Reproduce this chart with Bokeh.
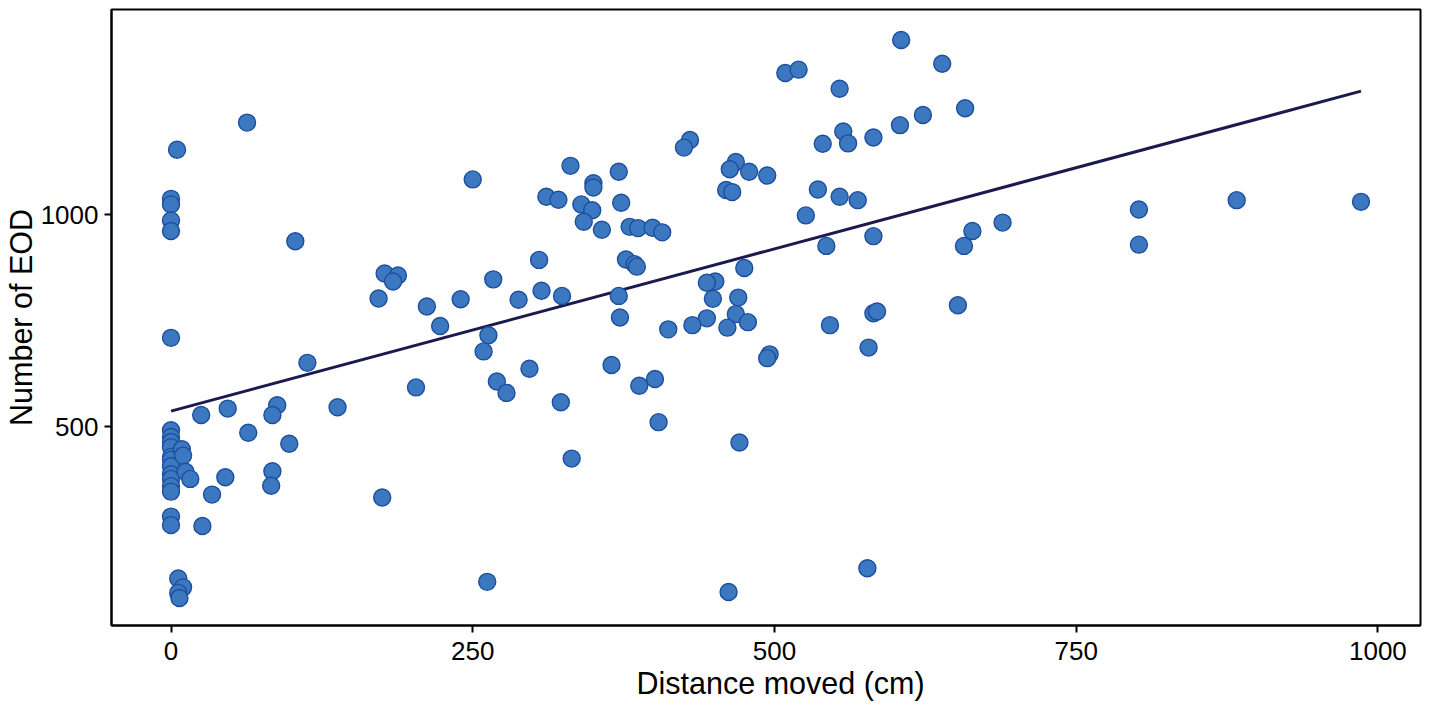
from bokeh.plotting import figure
from bokeh.models import Range1d, FixedTicker, ColumnDataSource, Title
from bokeh.embed import file_html
from bokeh.resources import INLINE

# Distance moved (cm) and Number of EOD
distance = [
    5, 63, 0, 0, 0, 0, 103, 250, 311, 177, 188, 184, 172, 212, 240, 267, 288, 305, 307, 223,
    0, 263, 259, 297, 113, 203, 270, 278, 25, 47, 88, 84, 138, 64, 98, 84, 83, 45, 34, 26,
    175, 262,
    0, 0, 0, 0, 0, 0, 0, 0, 0, 0, 0, 0, 0,
    9, 10, 12, 16,
    6, 10, 6, 7,
    331, 321, 371, 350, 350, 340, 349, 342, 357, 373, 380, 387, 399, 407, 377, 384, 386,
    324, 371, 372, 430, 425, 468, 463, 479, 494, 460, 465, 509, 520, 554, 605, 639, 658,
    623, 604, 557, 561, 540, 582, 536, 554, 569, 526, 582, 543, 657, 664, 689, 475, 451,
    444, 449, 470, 468, 478, 444, 432, 412, 461, 546, 582, 585, 652,
    365, 323, 388, 401, 404, 332, 471, 496, 494, 578, 462, 577,
    802, 802, 883, 986,
]
eod = [
    1154, 1218, 1038, 1025, 987, 962, 938, 1084, 1043, 862, 857, 843, 803, 784, 801, 848, 800, 894, 821, 738,
    710, 716, 678, 637, 651, 593, 607, 580, 528, 543, 551, 528, 546, 486, 460, 395, 361, 381, 340, 266,
    333, 134,
    492, 476, 464, 452, 429, 422, 407, 388, 377, 360, 347, 288, 268,
    447, 432, 394, 377,
    142, 121, 108, 96,
    1116, 1036, 1102, 1075, 1065, 1025, 1011, 984, 965, 1029, 972, 969, 970, 959, 895, 884, 878,
    809, 809, 758, 1177, 1159, 1125, 1108, 1102, 1093, 1059, 1054, 1335, 1343, 1298, 1413, 1357, 1252,
    1236, 1212, 1197, 1169, 1168, 1183, 1060, 1043, 1035, 999, 950, 927, 927, 962, 982, 875, 843,
    840, 802, 805, 766, 747, 756, 740, 730, 734, 740, 768, 772, 787,
    646, 558, 597, 613, 511, 425, 463, 671, 662, 687, 110, 166,
    1013, 930, 1035, 1031,
]

# Linear fit
fit_intercept = 537.0
fit_slope = 0.766

x_ticks = [0, 250, 500, 750, 1000]
y_ticks = [500, 1000]
x_title = "Distance moved (cm)"
y_title = "Number of EOD"

p = figure(width=1430, height=713, output_backend="svg", toolbar_location=None,
           x_range=Range1d(-49.3, 1035.3), y_range=Range1d(31, 1485),
           min_border_left=111, min_border_right=10, min_border_top=9, min_border_bottom=88)
p.background_fill_color = "white"
p.border_fill_color = "white"
p.grid.visible = False
p.outline_line_color = "black"
p.outline_line_width = 2

for ax in (p.xaxis[0], p.yaxis[0]):
    ax.axis_line_color = "black"
    ax.axis_line_width = 2
    ax.major_tick_line_color = "black"
    ax.major_tick_line_width = 2
    ax.major_tick_out = 7
    ax.major_tick_in = 0
    ax.minor_tick_line_color = None
    ax.major_label_text_font = "Liberation Sans"
    ax.major_label_text_font_size = "26px"
    ax.major_label_text_color = "black"
    ax.axis_label_text_font = "Liberation Sans"
    ax.axis_label_text_font_size = "30.5px"
    ax.axis_label_text_font_style = "normal"
    ax.axis_label_text_color = "black"

p.xaxis.ticker = FixedTicker(ticks=x_ticks)
p.yaxis.ticker = FixedTicker(ticks=y_ticks)
p.yaxis.axis_label = y_title
p.xaxis.major_label_standoff = 9
p.yaxis.major_label_standoff = 6
p.yaxis.axis_label_standoff = 0

# x-axis title, slightly right of the panel centre as in the reference
p.add_layout(Title(text=x_title, align="left", offset=525, standoff=3,
                   text_font="Liberation Sans", text_font_size="30.5px",
                   text_font_style="normal", text_color="black"), "below")

src = ColumnDataSource(data=dict(x=distance, y=eod))

x0, x1 = min(distance), max(distance)
p.line([x0, x1], [fit_intercept + fit_slope * x0, fit_intercept + fit_slope * x1],
       line_color="#1b1a4f", line_width=3)

p.scatter("x", "y", source=src, size=17, fill_color="#3b78c0", line_color="#1d4e9e",
          line_width=1.4, fill_alpha=1.0)

open("out.html", "w").write(file_html(p, INLINE))
